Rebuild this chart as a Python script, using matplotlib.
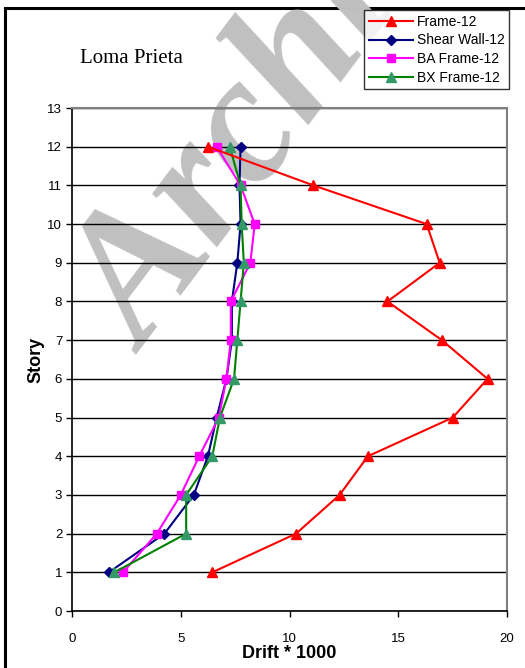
import numpy as np
import matplotlib.pyplot as plt
from matplotlib.patches import Rectangle

plt.rcParams['font.family'] = ['Liberation Sans', 'DejaVu Sans']

# 层数和各结构的层间位移角 (Drift * 1000)
story = [1, 2, 3, 4, 5, 6, 7, 8, 9, 10, 11, 12]
frame_12 = [6.45, 10.3, 12.3, 13.6, 17.5, 19.1, 17.0, 14.5, 16.9, 16.3, 11.1, 6.25]
shear_wall_12 = [1.7, 4.25, 5.6, 6.25, 6.65, 7.1, 7.35, 7.35, 7.6, 7.75, 7.7, 7.75]
ba_frame_12 = [2.35, 3.9, 5.0, 5.85, 6.75, 7.1, 7.3, 7.3, 8.2, 8.4, 7.75, 6.65]
bx_frame_12 = [1.95, 5.25, 5.25, 6.45, 6.8, 7.45, 7.6, 7.75, 7.9, 7.8, 7.75, 7.25]

fig = plt.figure(figsize=(5.25, 6.68), dpi=100)
ax = fig.add_axes([0.137, 0.0853, 0.829, 0.7530])
ax.set_facecolor('none')
ax.set_zorder(2)

# 外边框 (只看得到左边和上边)
fig.patches.append(Rectangle((0.0095, -0.05), 1.2, 1.038, transform=fig.transFigure,
                             fill=False, edgecolor='black', linewidth=2.2, zorder=0))

# 水印
fig.text(0.55, 0.861, 'Archive', fontsize=132, family='Liberation Serif', style='italic',
         fontweight='bold', color='#c0c0c0', rotation=53, rotation_mode='anchor',
         ha='center', va='center', zorder=1)

ax.plot(frame_12, story, color='red', marker='^', markersize=7, linewidth=1.5,
        label='Frame-12', zorder=5)
ax.plot(shear_wall_12, story, color='#000080', marker='D', markersize=5, linewidth=1.5,
        label='Shear Wall-12', zorder=4)
ax.plot(ba_frame_12, story, color='magenta', marker='s', markersize=6, linewidth=1.5,
        label='BA Frame-12', zorder=4)
ax.plot(bx_frame_12, story, color='green', marker='^', markersize=7, linewidth=1.5,
        markerfacecolor='#339966', markeredgecolor='#339966', label='BX Frame-12', zorder=4)

ax.set_xlim(0, 20)
ax.set_ylim(0, 13)
ax.set_xticks([0, 5, 10, 15, 20])
ax.set_yticks(range(0, 14))
ax.yaxis.grid(True, color='black', linewidth=1)
ax.set_axisbelow(True)
ax.tick_params(direction='out', length=4, width=1, labelsize=9.5, pad=3)
ax.tick_params(axis='x', pad=12)
for s in ['top', 'right']:
    ax.spines[s].set_color('#808080')
    ax.spines[s].set_linewidth(1.5)
for s in ['left', 'bottom']:
    ax.spines[s].set_linewidth(1.2)

ax.set_xlabel('Drift * 1000', fontsize=13, fontweight='bold', labelpad=0)
ax.set_ylabel('Story', fontsize=13, fontweight='bold', labelpad=2)

fig.text(0.152, 0.913, 'Loma Prieta', fontsize=15, family='Liberation Serif',
         ha='left', va='center')

leg = ax.legend(loc='upper right', bbox_to_anchor=(0.97, 0.9845), bbox_transform=fig.transFigure,
                fontsize=10, frameon=True, fancybox=False, edgecolor='black',
                borderpad=0.3, labelspacing=0.35, handlelength=3.2, handletextpad=0.3,
                borderaxespad=0)
leg.get_frame().set_linewidth(1)
leg.set_zorder(10)

plt.savefig('out.png', dpi=100)
